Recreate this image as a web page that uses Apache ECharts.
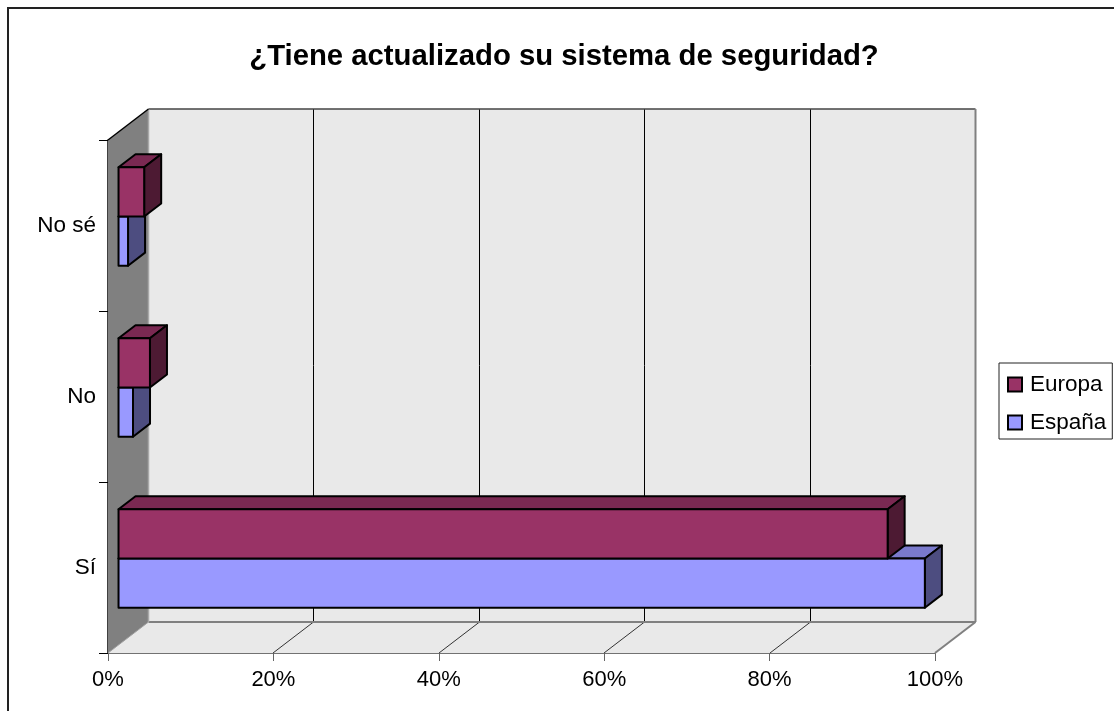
<!DOCTYPE html>
<html><head><meta charset="utf-8">
<style>html,body{margin:0;padding:0;background:#fff}#c{width:1114px;height:711px}</style>
<script src="https://cdn.jsdelivr.net/npm/echarts@6/dist/echarts.min.js"></script>
</head><body><div id="c"></div>
<script>
const categories = ['Sí', 'No', 'No sé'];
const espana = [97.5, 1.75, 1.15];
const europa = [93, 3.8, 3.1];
const xTicks = [0, 20, 40, 60, 80, 100];

const DEPTH = [40.5, -31];      // full chart depth in pixels
const BAR_START = 0.26;         // where bars begin in the depth
const BAR_DEPTH = 0.42;         // how deep the bars are
const BAR_NUDGE = -1;
const FONT = 'Liberation Sans';
const chart = echarts.init(document.getElementById('c'));

function poly(points, fill, stroke, lw) {
  return { type: 'polygon', shape: { points }, style: { fill, stroke: stroke || 'none', lineWidth: lw || 0 } };
}
function line(a, b, stroke, lw) {
  return { type: 'line', shape: { x1: a[0], y1: a[1], x2: b[0], y2: b[1] }, style: { stroke, lineWidth: lw } };
}
const off = (p, k) => [p[0] + DEPTH[0] * k, p[1] + DEPTH[1] * k];

function renderWalls(params, api) {
  const cs = params.coordSys;
  const x0 = cs.x, x1 = cs.x + cs.width, y0 = cs.y, y1 = cs.y + cs.height;
  const ch = [];
  ch.push(poly([[x0, y1], [x1, y1], off([x1, y1], 1), off([x0, y1], 1)], '#e9e9e9'));
  ch.push(poly([off([x0, y0], 1), off([x1, y0], 1), off([x1, y1], 1), off([x0, y1], 1)], '#e9e9e9'));
  ch.push(poly([[x0, y0], off([x0, y0], 1), off([x0, y1], 1), [x0, y1]], '#808080'));
  xTicks.slice(1, -1).forEach(t => {
    const px = Math.round(api.coord([t, 0])[0]);
    ch.push(line(off([px, y0], 1), off([px, y1], 1), '#000', 1));
    ch.push(line([px, y1], off([px, y1], 1), '#333', 1));
  });
  ch.push(line(off([x0, y0], 1), off([x1, y0], 1), '#444', 1.5));
  ch.push(line(off([x1, y0], 1), off([x1, y1], 1), '#808080', 2));
  ch.push(line(off([x0, y1], 1), off([x1, y1], 1), '#808080', 2));
  ch.push(line(off([x1, y1], 1), [x1, y1], '#808080', 2));
  ch.push(line(off([x0, y0], 1), off([x0, y1], 1), '#a8a8a8', 1.5));
  ch.push(line(off([x0, y1], 1), [x0, y1], '#a0a0a0', 1));
  ch.push(line([x0, y0], off([x0, y0], 1), '#000', 1.5));
  return { type: 'group', children: ch };
}

function makeBar(front, top, side, sign) {
  return function (params, api) {
    const cat = api.value(0), val = api.value(1);
    const zero = api.coord([0, cat]);
    const end = api.coord([val, cat]);
    const band = api.size([0, 1])[1];
    const h = band * 0.288;
    const yA = (sign > 0 ? zero[1] - h : zero[1]) + BAR_NUDGE;
    const yB = yA + h;
    const s = BAR_START, d = BAR_START + BAR_DEPTH;
    const a = off([zero[0], yA], s), b = off([end[0], yA], s), c = off([end[0], yB], s), e = off([zero[0], yB], s);
    const a2 = off([zero[0], yA], d), b2 = off([end[0], yA], d), c2 = off([end[0], yB], d);
    const st = { stroke: '#000', lineWidth: 2, lineJoin: 'round' };
    return { type: 'group', children: [
      { type: 'polygon', shape: { points: [a, b, b2, a2] }, style: Object.assign({ fill: top }, st) },
      { type: 'polygon', shape: { points: [b, c, c2, b2] }, style: Object.assign({ fill: side }, st) },
      { type: 'polygon', shape: { points: [a, b, c, e] }, style: Object.assign({ fill: front }, st) }
    ] };
  };
}
const pairs = a => a.map((v, i) => [i, v]);

chart.setOption({
  animation: false,
  backgroundColor: '#fff',
  title: {
    text: '¿Tiene actualizado su sistema de seguridad?',
    left: 559, top: 37, textAlign: 'center',
    textStyle: { fontFamily: FONT, fontSize: 29.3, fontWeight: 'bold', color: '#000' }
  },
  legend: {
    orient: 'vertical', left: 999, top: 363,
    padding: [10, 6, 5, 8], itemGap: 15, itemWidth: 14, itemHeight: 14,
    borderColor: '#222', borderWidth: 1, backgroundColor: '#fff',
    data: [{ name: 'Europa', icon: 'rect' }, { name: 'España', icon: 'rect' }],
    textStyle: { fontFamily: FONT, fontSize: 22.5, color: '#000', padding: [0, 2, 14, 3] }
  },
  grid: { left: 108, right: 179, top: 140, bottom: 58 },
  xAxis: {
    type: 'value', min: 0, max: 100, interval: 20,
    axisLine: { show: true, lineStyle: { color: '#444', width: 1.5 } },
    axisTick: { show: true, length: 8, lineStyle: { color: '#666' } },
    splitLine: { show: false },
    axisLabel: { formatter: '{value}%', fontFamily: FONT, fontSize: 22, color: '#000', margin: 16 }
  },
  yAxis: {
    type: 'category', data: categories,
    axisLine: { show: true, lineStyle: { color: '#000', width: 1.5 } },
    axisTick: { show: true, length: 9, lineStyle: { color: '#000' } },
    splitLine: { show: false },
    axisLabel: { fontFamily: FONT, fontSize: 22.5, color: '#000', margin: 12 }
  },
  series: [
    { type: 'custom', name: 'walls', silent: true, z: 1, coordinateSystem: 'cartesian2d',
      renderItem: renderWalls, data: [[0, 0]], encode: { x: 0, y: 1 } },
    { type: 'custom', name: 'España', z: 3, coordinateSystem: 'cartesian2d',
      itemStyle: { color: '#9999ff', borderColor: '#000', borderWidth: 2 },
      renderItem: makeBar('#9999ff', '#7a7acc', '#4d4d80', -1), data: pairs(espana),
      encode: { x: 1, y: 0 } },
    { type: 'custom', name: 'Europa', z: 4, coordinateSystem: 'cartesian2d',
      itemStyle: { color: '#993366', borderColor: '#000', borderWidth: 2 },
      renderItem: makeBar('#993366', '#7a2952', '#4d1a33', 1), data: pairs(europa),
      encode: { x: 1, y: 0 } }
  ],
  graphic: [{
    type: 'polyline', silent: true, z: -10,
    shape: { points: [[8, 711], [8, 8], [1114, 8]] },
    style: { fill: 'none', stroke: '#222', lineWidth: 2 }
  }]
});
</script></body></html>
